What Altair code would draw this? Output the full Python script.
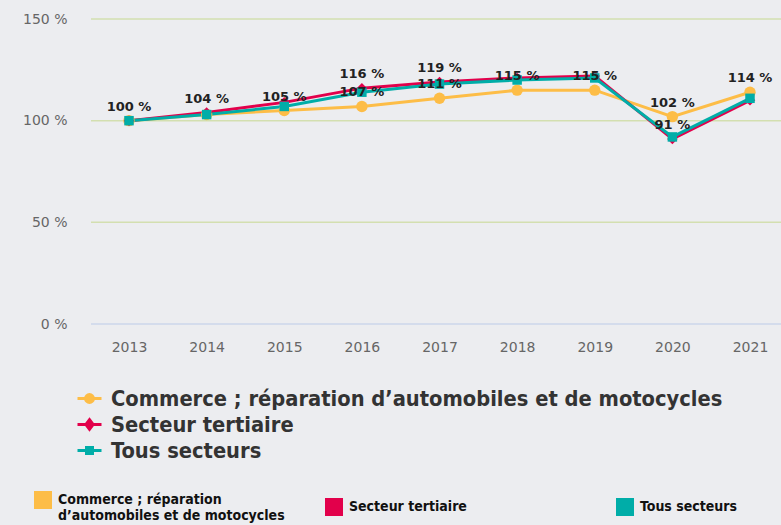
import altair as alt
import pandas as pd

years = ["2013", "2014", "2015", "2016", "2017", "2018", "2019", "2020", "2021"]
series = [
    "Commerce ; réparation d’automobiles et de motocycles",
    "Secteur tertiaire",
    "Tous secteurs",
]
commerce = [100, 103, 105, 107, 111, 115, 115, 102, 114]
tertiaire = [100, 104, 109, 116, 119, 121, 122, 91, 110]
tous = [100, 103, 107, 114, 118, 120, 121, 92, 111]
# which points carry a visible data label (1 = shown)
commerce_lab = [0, 0, 1, 1, 1, 1, 1, 1, 1]
tertiaire_lab = [1, 1, 0, 1, 1, 0, 0, 1, 0]
tous_lab = [0, 0, 0, 0, 0, 0, 0, 0, 0]
y_ticks = [0, 50, 100, 150]

colors = ["#fdbd47", "#e2004b", "#00ada8"]
point_shapes = ["circle", "diamond", "square"]
legend_shapes = [
    "M-1,0L1,0M-0.33,0A0.33,0.33 0 1,1 0.33,0A0.33,0.33 0 1,1 -0.33,0Z",
    "M-1,0L1,0M0,-0.4L0.3,0L0,0.4L-0.3,0Z",
    "M-1,0L1,0M-0.25,-0.25L0.25,-0.25L0.25,0.25L-0.25,0.25Z",
]

rows = []
for s, vals, labs in zip(series, [commerce, tertiaire, tous], [commerce_lab, tertiaire_lab, tous_lab]):
    for y, v, l in zip(years, vals, labs):
        rows.append({"year": y, "serie": s, "value": v, "lab": l})
df = pd.DataFrame(rows)
grid_df = pd.DataFrame({"tick": y_ticks})

FONT = "DejaVu Sans"
LFONT = "DejaVu Sans Condensed, DejaVu Sans"

x = alt.X("year:O", sort=years,
          scale=alt.Scale(type="point", range=[38, 659], padding=0),
          axis=alt.Axis(title=None, labelAngle=0, labelFontSize=14, labelColor="#666666",
                        labelFont=FONT, ticks=False, domain=False, labelPadding=16, grid=False))
yscale = alt.Scale(domain=[0, 150], nice=False)
y_axis = alt.Axis(title=None, values=y_ticks, labelExpr="datum.value + ' %'",
                  labelFontSize=14, labelColor="#666666", labelFont=FONT, ticks=False,
                  domain=False, labelPadding=24, grid=False)
y = alt.Y("value:Q", scale=yscale, axis=y_axis)

grid = alt.Chart(grid_df).mark_rule(strokeWidth=1.5).encode(
    y=alt.Y("tick:Q", scale=yscale, axis=y_axis),
    color=alt.condition("datum.tick == 0", alt.value("#ccd6eb"), alt.value("#d3dfb0")),
)

base = alt.Chart(df)

lines = base.mark_line(strokeWidth=3).encode(
    x=x, y=y,
    stroke=alt.Stroke("serie:N", scale=alt.Scale(domain=series, range=colors), legend=None),
)

points = base.mark_point(filled=True, opacity=1, strokeWidth=0).encode(
    x=x, y=y,
    fill=alt.Fill("serie:N", scale=alt.Scale(domain=series, range=colors), legend=None),
    shape=alt.Shape("serie:N", scale=alt.Scale(domain=series, range=point_shapes), legend=None),
    size=alt.Size("serie:N", scale=alt.Scale(domain=series, range=[130, 90, 170]), legend=None),
)

labels = base.transform_filter("datum.lab == 1").transform_calculate(
    txt="format(datum.value, '.0f') + ' %'"
).mark_text(font=FONT, fontSize=13, fontWeight="bold", color="#222222", dy=-14,
            baseline="middle").encode(x=x, y=y, text="txt:N")

leg1 = alt.Legend(orient="none", legendX=-15, legendY=366, title=None, direction="vertical",
                  symbolSize=576, symbolStrokeWidth=3, labelFont=LFONT, labelFontSize=21.7,
                  labelFontWeight="bold", labelColor="#333333", labelOffset=8, rowPadding=-1.5,
                  padding=0, labelLimit=800, symbolOpacity=1)

legend_a = base.transform_filter("datum.value < 0").mark_point(filled=True, opacity=1).encode(
    x=x, y=y,
    shape=alt.Shape("serie:N", scale=alt.Scale(domain=series, range=legend_shapes), legend=leg1),
    stroke=alt.Stroke("serie:N", scale=alt.Scale(domain=series, range=colors), legend=leg1),
    fill=alt.Fill("serie:N", scale=alt.Scale(domain=series, range=colors), legend=leg1),
)

leg2 = alt.Legend(orient="none", legendX=-57, legendY=472, title=None, direction="horizontal",
                  columns=3, symbolType="square", symbolSize=324, symbolStrokeWidth=0,
                  symbolOpacity=1,
                  labelFont=LFONT, labelFontSize=14, labelFontWeight="bold", labelColor="#111111",
                  labelOffset=6, gridAlign="all", columnPadding=40, padding=0, labelLimit=400,
                  labelExpr="indexof(datum.label, 'Commerce') == 0 ? ['Commerce ; réparation', 'd’automobiles et de motocycles'] : datum.label")

legend_b = base.transform_filter("datum.value < 0").mark_square(filled=True, opacity=1).encode(
    x=x, y=y,
    color=alt.Color("serie:N", scale=alt.Scale(domain=series, range=colors), legend=leg2),
)

chart = alt.layer(grid, lines, points, labels, legend_a, legend_b).resolve_scale(
    stroke="independent", fill="independent", shape="independent", size="independent",
    color="independent",
).properties(
    width=690, height=305,
    autosize=alt.AutoSizeParams(type="none"),
    padding={"left": 91, "top": 19, "right": 0, "bottom": 201},
    background="#ecedf0",
).configure_view(stroke=None)

chart.save("out.html", embed_options={"renderer": "svg", "actions": False})
